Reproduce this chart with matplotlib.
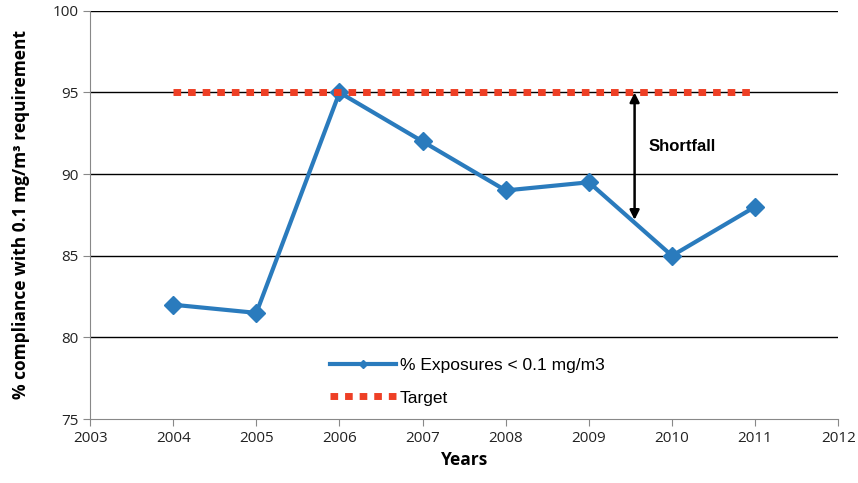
import matplotlib
matplotlib.use("Agg")
import matplotlib.pyplot as plt

# Compliance data by year
years = [2004, 2005, 2006, 2007, 2008, 2009, 2010, 2011]
exposures = [82, 81.5, 95, 92, 89, 89.5, 85, 88]
target = [95, 95, 95, 95, 95, 95, 95, 95]

# Shortfall arrow
arrow_x = 2009.55
arrow_top = 95
arrow_bottom = 87.2

plt.rcParams['font.family'] = ['Open Sans', 'DejaVu Sans']

fig = plt.figure(figsize=(8.58, 4.83), dpi=100)
ax = fig.add_axes([0.105, 0.1325, 0.872, 0.845])

ax.set_xlim(2003, 2012)
ax.set_ylim(75, 100)
ax.set_xticks(range(2003, 2013))
ax.set_yticks(range(75, 101, 5))

for y in range(80, 101, 5):
    ax.axhline(y, color='black', linewidth=1.0, zorder=1)

ax.plot(years, exposures, color='#2a7bbd', linewidth=3, marker='D', markersize=9.5,
        label='% Exposures < 0.1 mg/m3', zorder=3)
ax.plot(years, target, color='#ee3f25', linewidth=5, linestyle=(0, (1.1, 1.0)),
        label='Target', zorder=4)

ax.annotate('', xy=(arrow_x, arrow_top), xytext=(arrow_x, arrow_bottom),
            arrowprops=dict(arrowstyle='<|-|>', color='black', lw=1.8,
                            mutation_scale=14, shrinkA=0, shrinkB=0), zorder=5)
ax.text(arrow_x + 0.17, 91.7, 'Shortfall', fontsize=12, fontweight='bold',
        va='center', ha='left', family=['Liberation Sans', 'DejaVu Sans'])

for side in ['top', 'right']:
    ax.spines[side].set_visible(False)
for side in ['left', 'bottom']:
    ax.spines[side].set_color('#888888')
ax.tick_params(colors='#888888', labelcolor='#222222', labelsize=11, length=5)

ax.set_xlabel('Years', fontsize=12.5, fontweight='bold')
ax.set_ylabel('% compliance with 0.1 mg/m³ requirement', fontsize=12.5,
              fontweight='bold', labelpad=16)

ax.legend(loc='upper left', bbox_to_anchor=(0.30, 0.188), frameon=False,
          prop={'family': ['Liberation Sans', 'DejaVu Sans'], 'size': 12.5},
          handlelength=3.8, labelspacing=1.0, handletextpad=0.2, markerscale=0.45)

fig.savefig('out.png', dpi=100)
